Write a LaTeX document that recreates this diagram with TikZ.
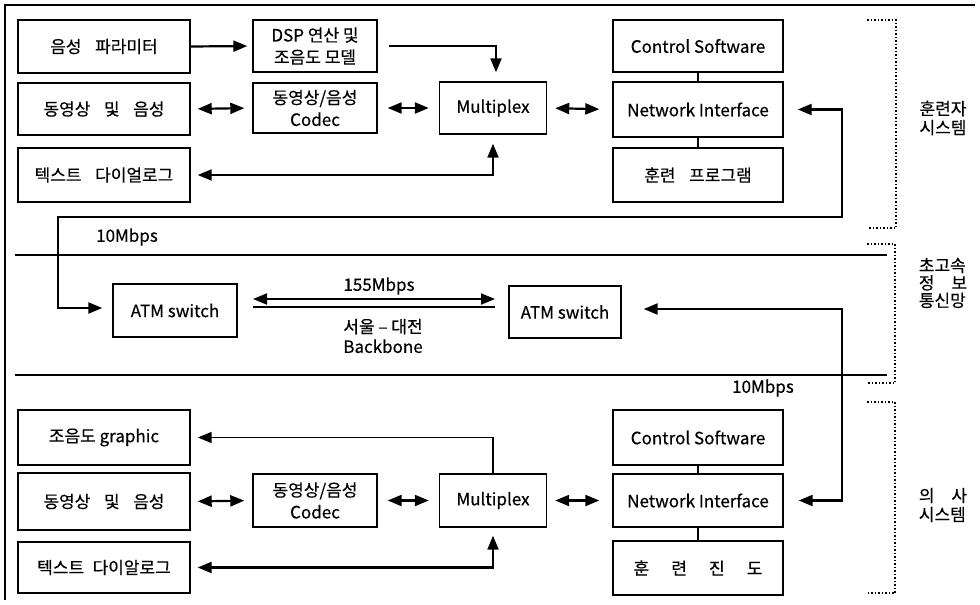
\documentclass[tikz,border=0pt]{standalone}
\usepackage{fontspec}
\setmainfont{Noto Sans CJK KR}[FakeBold=0.4]
\usetikzlibrary{arrows.meta}
\tikzset{
  >={Triangle[length=14pt,width=11pt]},
  box/.style={draw, line width=1.4pt, inner sep=0pt, align=center, font=\fontsize{17}{22}\selectfont},
  conn/.style={line width=2.2pt, ->},
  dconn/.style={line width=2.2pt, <->},
  plain/.style={line width=2pt},
  sep/.style={line width=1.8pt},
  brk/.style={line width=1.5pt, dotted},
  lbl/.style={font=\fontsize{17}{19}\selectfont, inner sep=0pt, align=left}
}
\newcommand{\ksp}{\hspace{0.8em}}
\begin{document}
\begin{tikzpicture}[x=1pt,y=-1pt]
\useasboundingbox (0,0) rectangle (980,605);
% frame and separators
\draw[sep] (5,600) -- (5,5) -- (975,5);
\draw[sep] (15,255) -- (887,255);
\draw[sep] (15,375) -- (887,375);
% brackets
\draw[brk] (867,20) -- (896,20) -- (896,228) -- (867,228);
\draw[brk] (867,244) -- (895,244) -- (895,383) -- (867,383);
\draw[brk] (867,402) -- (895,402) -- (895,593) -- (867,593);
\node[lbl] (L1) at (943,118) {훈련자\\시스템};
\node[lbl, font=\fontsize{17}{17.5}\selectfont] (L2) at (943,283) {초고속\\정\hspace{1em}보\\통신망};
\node[lbl] (L3) at (943,505) {의\hspace{1em}사\\시스템};
% top section
\node[box, minimum width=172pt, minimum height=53pt] (vp) at (104,46.5) {음성\ksp 파라미터};
\node[box, minimum width=124pt, minimum height=52pt] (dsp) at (315,46) {DSP 연산 및\\조음도 모델};
\node[box, minimum width=172pt, minimum height=52pt] (av1) at (104,109) {동영상\ksp 및\ksp 음성};
\node[box, minimum width=124pt, minimum height=50pt] (cd1) at (315,108) {동영상/음성\\Codec};
\node[box, minimum width=107pt, minimum height=52pt] (mx1) at (493,108) {Multiplex};
\node[box, minimum width=172pt, minimum height=54pt] (td1) at (104,175) {텍스트\ksp 다이얼로그};
\node[box, minimum width=170pt, minimum height=52pt] (cs1) at (698,46) {Control Software};
\node[box, minimum width=170pt, minimum height=55pt] (ni1) at (698,109.5) {Network Interface};
\node[box, minimum width=170pt, minimum height=54pt] (tp1) at (698,175) {훈련\ksp 프로그램};
% middle
\node[box, minimum width=124pt, minimum height=53pt] (atm1) at (175,310.5) {ATM switch};
\node[box, minimum width=112pt, minimum height=52pt] (atm2) at (565,312) {ATM switch};
% bottom
\node[box, minimum width=172pt, minimum height=55pt] (gr) at (104,437.5) {조음도 graphic};
\node[box, minimum width=172pt, minimum height=57pt] (av2) at (104,501.5) {동영상\ksp 및\ksp 음성};
\node[box, minimum width=124pt, minimum height=53pt] (cd2) at (315,500.5) {동영상/음성\\Codec};
\node[box, minimum width=107pt, minimum height=53pt] (mx2) at (493,500.5) {Multiplex};
\node[box, minimum width=172pt, minimum height=51pt] (td2) at (104,567.5) {텍스트\hspace{0.5em}다이알로그};
\node[box, minimum width=170pt, minimum height=55pt] (cs2) at (698,437.5) {Control Software};
\node[box, minimum width=170pt, minimum height=53pt] (ni2) at (698,500.5) {Network Interface};
\node[box, minimum width=170pt, minimum height=54pt] (tj) at (698,568) {훈\hspace{1.3em}련\hspace{1.3em}진\hspace{1.3em}도};
% top connectors
\draw[conn, shorten >=5pt] (vp.east) -- (dsp.west);
\draw[conn, shorten >=9pt] ([xshift=11pt]dsp.east) -| ([xshift=3pt]mx1.north);
\draw[dconn, shorten <=7pt, shorten >=8pt] (av1.east) -- (cd1.west);
\draw[dconn, shorten <=10pt, shorten >=10pt] (cd1.east) -- (mx1.west);
\draw[dconn, shorten <=7pt, shorten >=9pt] (td1.east) -| (mx1.south);
\draw[dconn, shorten <=8pt, shorten >=13pt] (mx1.east) -- (ni1.west);
\draw[plain] (cs1.south) -- (ni1.north);
\draw[plain] (ni1.south) -- (tp1.north);
% 10Mbps link top
\coordinate (a1) at (842,109.5);
\coordinate (a2) at (842,217);
\coordinate (a3) at (58,217);
\coordinate (a4) at (58,308);
\draw[dconn, shorten <=14pt, shorten >=10pt]
  (ni1.east) -- (a1) -- (a2) -- (a3) -- (a4) -- (atm1.west |- a4);
\node[lbl] (m1) at (127,237) {10Mbps};
% backbone
\coordinate (b1) at (253,299);
\coordinate (b2) at (495,299);
\coordinate (b3) at (253,307);
\coordinate (b4) at (495,307);
\draw[line width=1.8pt, <->] (b1) -- (b2);
\draw[line width=1.8pt] (b3) -- (b4);
\node[lbl] (m2) at (379,286) {155Mbps};
\node[lbl, align=center, font=\fontsize{17}{20}\selectfont] (bb) at (383,336) {서울 – 대전\\Backbone};
% 10Mbps link bottom
\coordinate (c1) at (842,309);
\coordinate (c2) at (842,500.5);
\draw[dconn, shorten <=22pt, shorten >=15pt]
  (atm2.east |- c1) -- (c1) -- (c2) -- (ni2.east);
\node[lbl] (m3) at (763,388) {10Mbps};
% bottom connectors
\draw[conn, line width=1.5pt, shorten >=7pt] (mx2.north) |- (gr.east);
\draw[dconn, shorten <=7pt, shorten >=8pt] (av2.east) -- (cd2.west);
\draw[dconn, shorten <=10pt, shorten >=10pt] (cd2.east) -- (mx2.west);
\draw[dconn, shorten <=7pt, shorten >=8pt] (td2.east) -| (mx2.south);
\draw[dconn, shorten <=8pt, shorten >=13pt] (mx2.east) -- (ni2.west);
\draw[plain] (cs2.south) -- (ni2.north);
\draw[plain] (ni2.south) -- (tj.north);
\end{tikzpicture}
\end{document}
